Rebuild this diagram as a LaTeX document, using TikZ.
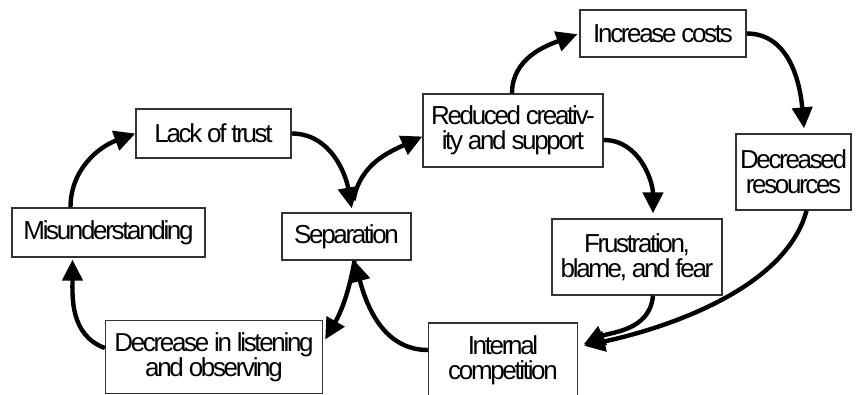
\documentclass[tikz,border=0pt]{standalone}
\usepackage{fontspec}
\setmainfont{Liberation Sans}[LetterSpace=-9]
\usepackage{tikz}
\usetikzlibrary{arrows.meta}
\tikzstyle{box}=[draw=black!80, line width=1.3pt, align=center, inner sep=0pt, font=\fontsize{26}{25}\selectfont]
\tikzstyle{flow}=[-{Triangle[length=21pt,width=20pt]}, line width=4.4pt, black]

\begin{document}
\begin{tikzpicture}[x=1pt, y=-1pt]
					\useasboundingbox (0,0) rectangle (859,395);
					\node[box, minimum width=193pt, minimum height=49pt] (mis) at (108.5,232.5) {Misunderstanding};
					\node[box, minimum width=155pt, minimum height=49pt] (lack) at (213.5,133.5) {Lack of trust};
					\node[box, minimum width=129pt, minimum height=47pt] (sep) at (346.5,236.5) {Separation};
					\node[box, minimum width=217pt, minimum height=73pt] (dec) at (214,357) {Decrease in listening\\and observing};
					\node[box, minimum width=180pt, minimum height=73pt] (red) at (513,130.5) {Reduced creativ-\\ity and support};
					\node[box, minimum width=166pt, minimum height=47pt] (inc) at (663,33.5) {Increase costs};
					\node[box, minimum width=115pt, minimum height=76pt] (res) at (793.5,172) {Decreased\\resources};
					\node[box, minimum width=170pt, minimum height=76pt] (fru) at (637,257) {Frustration,\\blame, and fear};
					\node[box, minimum width=149pt, minimum height=74pt] (comp) at (503,360) {Internal\\competition};
					\draw[flow] ([xshift=-38pt]mis.north) to[out=90,in=200] (lack.west);
					\draw[flow, shorten >=4pt] (lack.east) to[out=0,in=100] ([xshift=6pt]sep.north);
					\draw[flow] ([xshift=7pt,yshift=12pt]sep.north) to[out=80,in=205] ([yshift=-6pt]red.west);
					\draw[flow, shorten >=4pt] ([xshift=8pt]sep.south) to[out=-100,in=60] ([yshift=14pt]dec.east);
					\draw[flow] ([yshift=10pt]comp.west) to[out=180,in=-75] ([xshift=8pt]sep.south);
					\draw[flow, shorten >=2pt] ([yshift=9pt]dec.west) to[out=160,in=-90] ([xshift=-36pt]mis.south);
					\draw[flow, shorten >=2pt] ([xshift=-1pt]red.north) to[out=90,in=200] (inc.west);
					\draw[flow, shorten >=5pt] (inc.east) to[out=0,in=95] ([xshift=11pt]res.north);
					\draw[flow, shorten >=5pt] ([yshift=-9.5pt]red.east) to[out=0,in=90] ([xshift=16pt]fru.north);
					\draw[flow, shorten >=6pt] ([xshift=16pt]fru.south) to[out=-95,in=25] ([yshift=13pt]comp.east);
					\draw[flow, shorten >=6pt] ([xshift=13pt]res.south) to[out=-105,in=12,looseness=0.8] ([yshift=13pt]comp.east);
				\end{tikzpicture}
\end{document}
